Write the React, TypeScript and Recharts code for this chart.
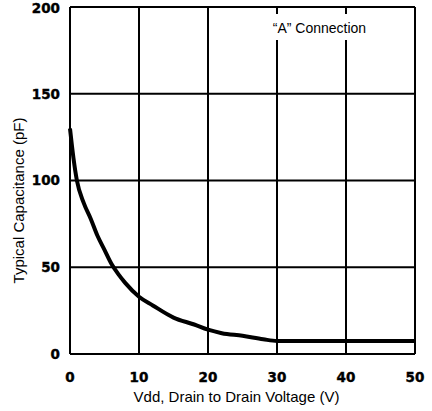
import { LineChart, Line, XAxis, YAxis, CartesianGrid, ReferenceArea } from "recharts";

const voltage = [0, 0.5, 1, 2, 3, 4, 5, 6, 7, 8, 10, 12, 15, 18, 20, 22, 25, 28, 30, 35, 40, 45, 50];
const capacitance = [130, 113, 100, 87, 78, 68, 60, 52, 46, 41, 33, 28, 21, 17, 14, 12, 10.5, 8.5, 7.5, 7.5, 7.5, 7.5, 7.5];
const xTicks = [0, 10, 20, 30, 40, 50];
const yTicks = [0, 50, 100, 150, 200];
const xLabel = "Vdd, Drain to Drain Voltage (V)";
const yLabel = "Typical Capacitance (pF)";
const note = "\u201CA\u201D Connection";

const data = voltage.map((v, i) => ({ v, c: capacitance[i] }));

const tickStyle = { fontFamily: "DejaVu Sans", fontWeight: 700, fontSize: 13.5, fill: "#000", stroke: "#000", strokeWidth: 0.4 };

function YTitle(props: any) {
  const vb = props.viewBox;
  const cx = vb.x + 18;
  const cy = vb.y + vb.height / 2 + 20;
  return (
    <text x={cx} y={cy} transform={`rotate(-90 ${cx} ${cy})`} textAnchor="middle" dominantBaseline="central"
      fontFamily="Liberation Sans" fontSize={15} style={{ fill: "#000" }}>
      {yLabel}
    </text>
  );
}

function XTitle(props: any) {
  const vb = props.viewBox;
  return (
    <text x={vb.x + vb.width / 2 - 6} y={vb.y + 48} textAnchor="middle"
      fontFamily="Liberation Sans" fontSize={15} fill="#000">
      {xLabel}
    </text>
  );
}

function NoteLabel(props: any) {
  const vb = props.viewBox;
  return (
    <text x={vb.x + vb.width / 2} y={vb.y + vb.height / 2 + 1} textAnchor="middle" dominantBaseline="central"
      fontFamily="Liberation Sans" fontSize={14} fill="#000">
      {note}
    </text>
  );
}

export default function App() {
  return (
    <div style={{ position: "absolute", left: 0, top: 0, background: "#fff" }}>
      <LineChart width={432} height={411} data={data} margin={{ top: 7, right: 17, bottom: 0, left: 0 }}>
        <CartesianGrid stroke="#000" strokeWidth={2} strokeOpacity={1} />
        <XAxis
          dataKey="v"
          type="number"
          domain={[0, 50]}
          ticks={xTicks}
          axisLine={false}
          tickLine={false}
          tick={tickStyle}
          tickMargin={12}
          height={57}
          label={<XTitle />}
        />
        <YAxis
          type="number"
          domain={[0, 200]}
          ticks={yTicks}
          axisLine={false}
          tickLine={false}
          tick={tickStyle}
          tickMargin={4}
          width={70}
          label={<YTitle />}
        />
        <ReferenceArea x1={28} x2={44.3} y1={181} y2={196} fill="#fff" fillOpacity={1} stroke="none" label={<NoteLabel />} />
        <Line
          type="monotone"
          dataKey="c"
          stroke="#000"
          strokeWidth={4}
          dot={false}
          isAnimationActive={false}
        />
      </LineChart>
    </div>
  );
}
